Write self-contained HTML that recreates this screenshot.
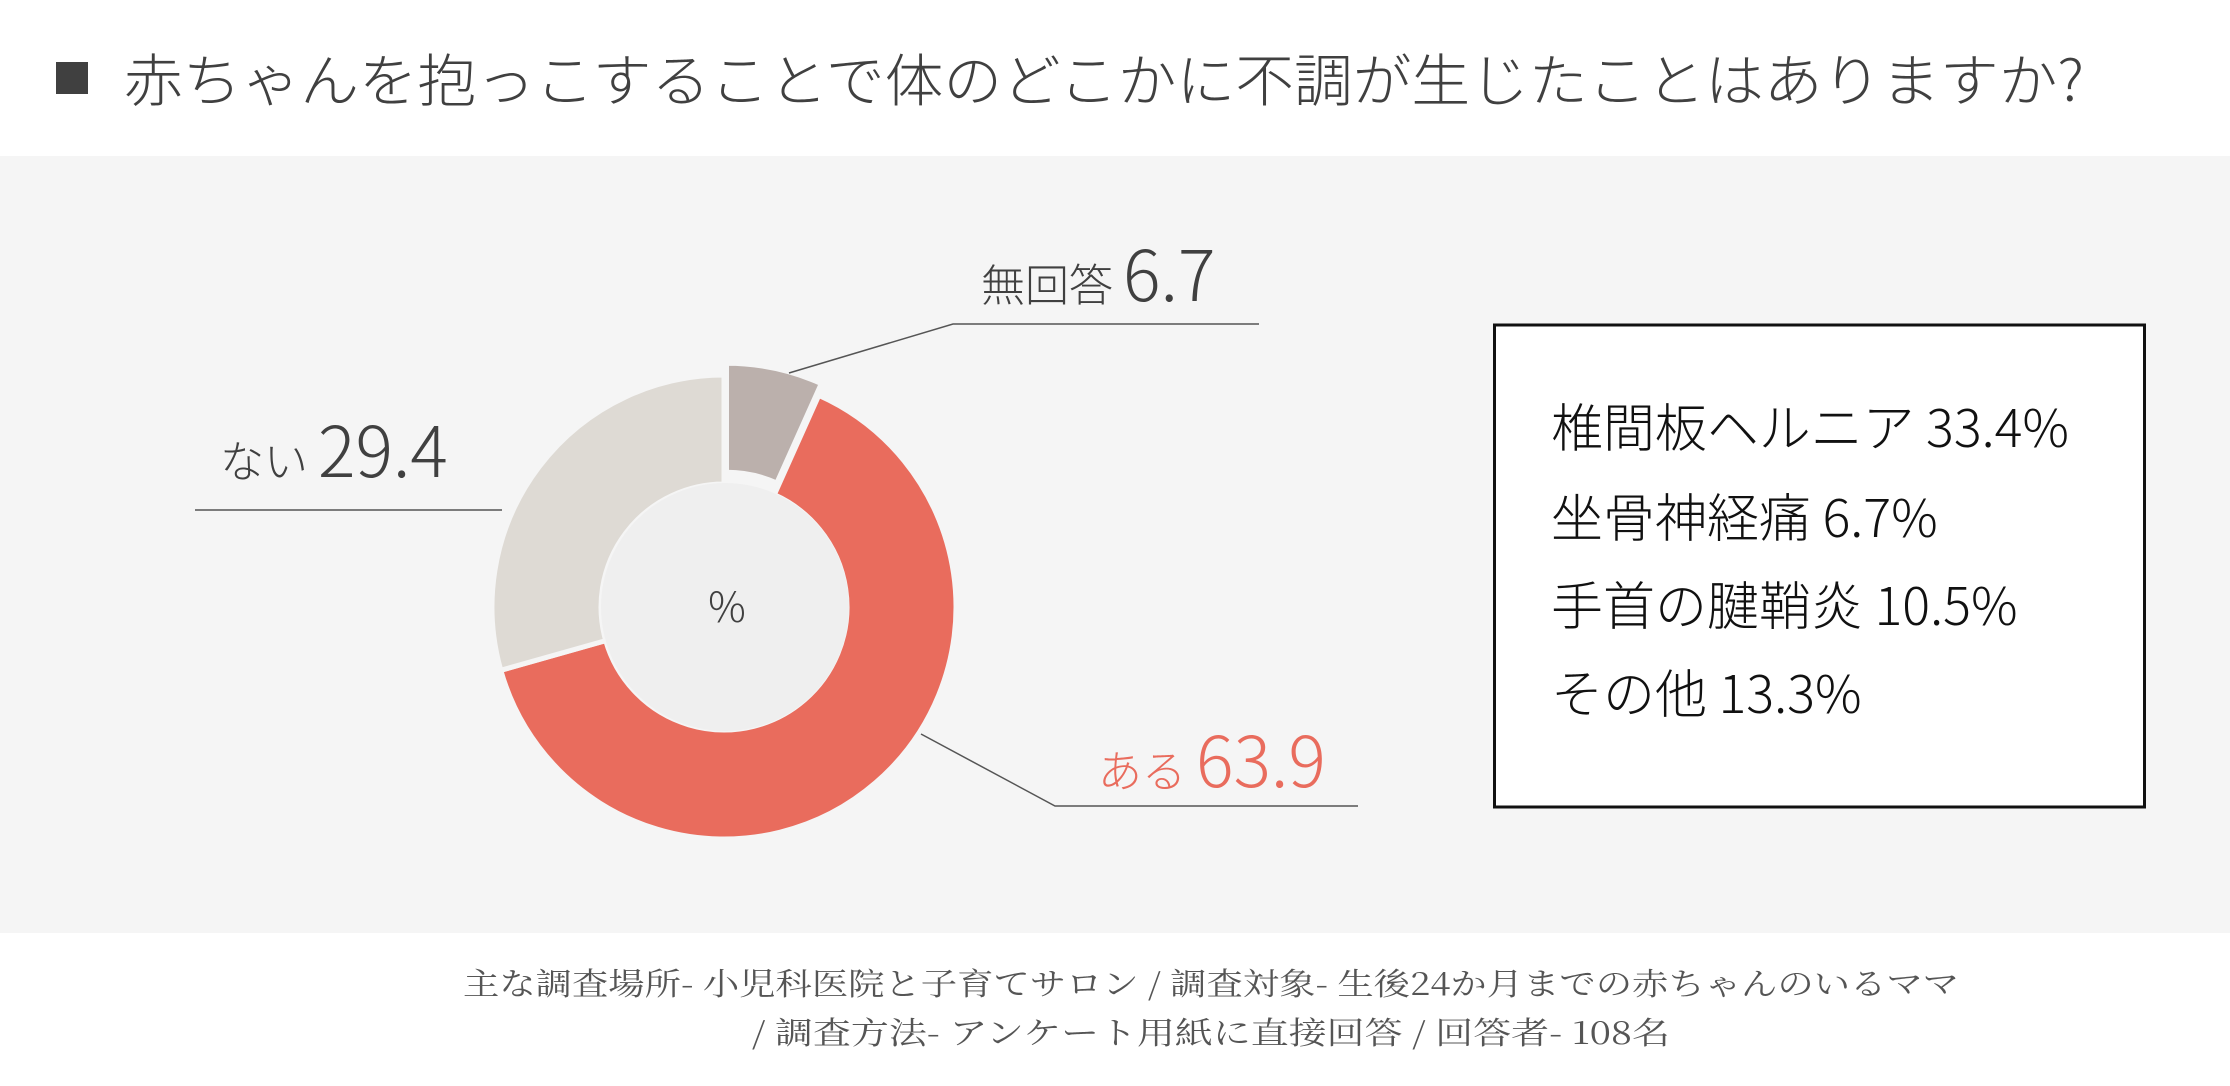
<!DOCTYPE html>
<html><head><meta charset="utf-8"><style>
html,body{margin:0;padding:0;background:#fff;}
svg{display:block;}
.s{font-family:"Noto Sans CJK JP",sans-serif;font-weight:300;}
.m{font-family:"Noto Serif CJK SC","Noto Serif CJK JP",serif;font-weight:400;}
</style></head><body>
<svg width="2230" height="1086" viewBox="0 0 2230 1086" xmlns="http://www.w3.org/2000/svg">
<rect width="2230" height="1086" fill="#fff"/>
<rect x="0" y="156" width="2230" height="777" fill="#f5f5f5"/>
<!-- title -->
<rect x="56" y="62" width="32" height="32" fill="#404040"/>
<text class="s" x="124" y="101" font-size="57" fill="#404040" textLength="1960" lengthAdjust="spacingAndGlyphs">赤ちゃんを抱っこすることで体のどこかに不調が生じたことはありますか?</text>
<!-- donut -->
<g stroke="#f5f5f5" stroke-width="5" stroke-linejoin="miter">
<path d="M818.8,395.3 A232,232 0 1 1 500.8,670.3 L605.7,640.6 A123,123 0 1 0 774.3,494.7 Z" fill="#e96c5d"/>
<path d="M500.8,670.3 A232,232 0 0 1 724,375 L724,484 A123,123 0 0 0 605.7,640.6 Z" fill="#dedad4"/>
<path transform="translate(2.5,-11.7)" d="M724,375 A232,232 0 0 1 818.8,395.3 L774.3,494.7 A123,123 0 0 0 724,484 Z" fill="#bbb0ac"/>
</g>
<circle cx="725" cy="607" r="124" fill="#efefef"/>
<text class="s" x="727" y="622" font-size="42" fill="#404040" text-anchor="middle">%</text>
<!-- leader lines -->
<g stroke="#555" stroke-width="1.5" fill="none">
<polyline points="789,373 953,324 1259,324"/>
<polyline points="195,510 502,510"/>
<polyline points="921,734 1055,806 1358,806"/>
</g>
<!-- labels -->
<text class="s" x="981" y="301" fill="#404040"><tspan font-size="44">無回答</tspan><tspan font-size="70" dx="10">6.7</tspan></text>
<text class="s" x="220" y="477" fill="#404040"><tspan font-size="44">ない</tspan><tspan font-size="70" dx="10">29.4</tspan></text>
<text class="s" x="1098" y="787" fill="#e96c5d"><tspan font-size="44">ある</tspan><tspan font-size="70" dx="10">63.9</tspan></text>
<!-- box -->
<rect x="1494.5" y="325" width="650" height="482" fill="#fff" stroke="#111" stroke-width="3"/>
<g class="s" font-size="52" fill="#111">
<text x="1551" y="447" textLength="518" lengthAdjust="spacingAndGlyphs">椎間板ヘルニア 33.4%</text>
<text x="1551" y="537">坐骨神経痛 6.7%</text>
<text x="1551" y="625">手首の腱鞘炎 10.5%</text>
<text x="1551" y="713">その他 13.3%</text>
</g>
<!-- footer -->
<g class="m" font-size="31" fill="#555">
<text x="463" y="995" textLength="1496" lengthAdjust="spacingAndGlyphs">主な調査場所- 小児科医院と子育てサロン / 調査対象- 生後24か月までの赤ちゃんのいるママ</text>
<text x="752" y="1044" textLength="918" lengthAdjust="spacingAndGlyphs">/ 調査方法- アンケート用紙に直接回答 / 回答者- 108名</text>
</g>
</svg>
</body></html>
